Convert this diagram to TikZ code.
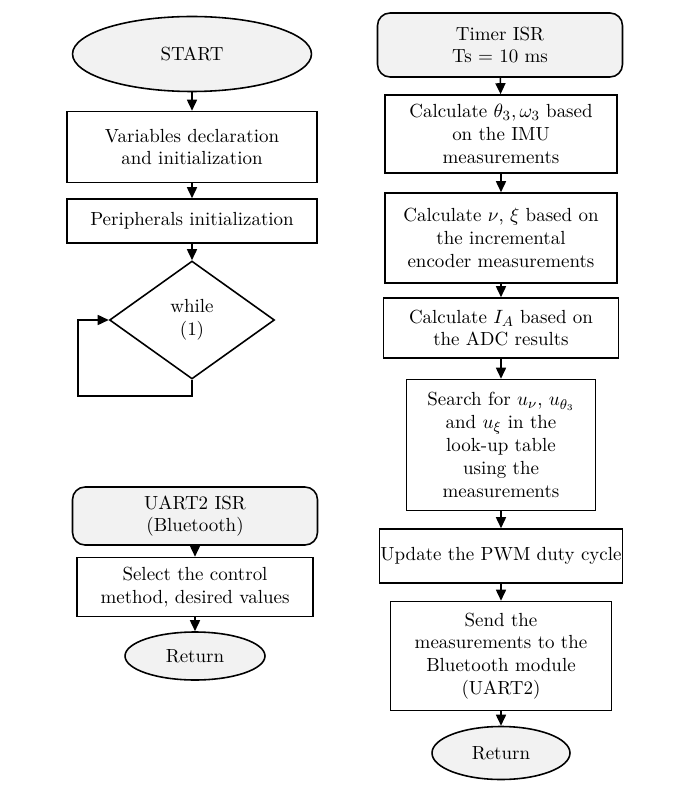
\documentclass[tikz,border=0pt]{standalone}
\usepackage{tikz}
\usepackage{xcolor}
\usetikzlibrary{shapes.geometric,arrows.meta}

\definecolor{termgray}{HTML}{F2F2F2}

\begin{document}
\begin{tikzpicture}[x=0.02cm, y=-0.02cm, line width=0.9pt,
    every node/.style={font=\fontsize{10.8}{13}\selectfont, align=center, inner sep=0pt},
    term/.style={ellipse, draw, fill=termgray},
    proc/.style={rectangle, draw},
    isr/.style={rectangle, rounded corners=0.25cm, draw, fill=termgray},
    cond/.style={diamond, draw},
    flow/.style={-{Triangle[width=0.2cm, length=0.22cm]}}]
          \useasboundingbox (0,0) rectangle (693,807);

          % main program
          \node[term, minimum width=4.78cm, minimum height=1.5cm] (start) at (192,54) {START};
          \node[proc, minimum width=5cm, minimum height=1.42cm] (vardecl) at (192,147) {Variables declaration\\and initialization};
          \node[proc, minimum width=5cm, minimum height=0.88cm] (perinit) at (192,221) {Peripherals initialization};
          \node[cond, minimum width=3.3cm, minimum height=2.36cm] (while) at (192,320) {while\\(1)};

          \coordinate (loop) at (78,396);

          \draw[flow] (start) -- (vardecl);
          \draw[flow] (vardecl) -- (perinit);
          \draw[flow] (perinit) -- (while);
          \draw[flow] (while.south) |- (loop) |- (while.west);

          % UART2 interrupt
          \node[isr, minimum width=4.9cm, minimum height=1.16cm] (uart) at (195,516) {UART2 ISR\\(Bluetooth)};
          \node[proc, minimum width=4.72cm, minimum height=1.18cm] (select) at (195,587) {Select the control\\method, desired values};
          \node[term, minimum width=2.8cm, minimum height=0.96cm] (uret) at (195,656) {Return};

          \draw[flow] (uart) -- (select);
          \draw[flow] (select) -- (uret);

          % timer interrupt
          \node[isr, minimum width=4.9cm, minimum height=1.28cm] (timer) at (500,45) {Timer ISR\\Ts $=$ 10 ms};
          \node[proc, minimum width=4.64cm, minimum height=1.56cm] (imu) at (501,134) {Calculate $\theta_3,\omega_3$ based\\on the IMU\\measurements};
          \node[proc, minimum width=4.64cm, minimum height=1.8cm] (enc) at (501,238) {Calculate $\nu$, $\xi$ based on\\the incremental\\encoder measurements};
          \node[proc, minimum width=4.7cm, minimum height=1.2cm] (adc) at (501,328) {Calculate $I_A$ based on\\the ADC results};
          \node[proc, minimum width=3.78cm, minimum height=2.62cm] (lut) at (501,445) {Search for $u_\nu$, $u_{\theta_3}$\\and $u_\xi$ in the\\look-up table\\using the\\measurements};
          \node[proc, minimum width=4.86cm, minimum height=1.08cm] (pwm) at (501,556) {Update the PWM duty cycle};
          \node[proc, minimum width=4.42cm, minimum height=2.18cm] (send) at (501,656) {Send the\\measurements to the\\Bluetooth module\\(UART2)};
          \node[term, minimum width=2.76cm, minimum height=1.06cm] (ret) at (501,753) {Return};

          \draw[flow] (timer) -- (imu);
          \draw[flow] (imu) -- (enc);
          \draw[flow] (enc) -- (adc);
          \draw[flow] (adc) -- (lut);
          \draw[flow] (lut) -- (pwm);
          \draw[flow] (pwm) -- (send);
          \draw[flow] (send) -- (ret);
        \end{tikzpicture}
\end{document}
